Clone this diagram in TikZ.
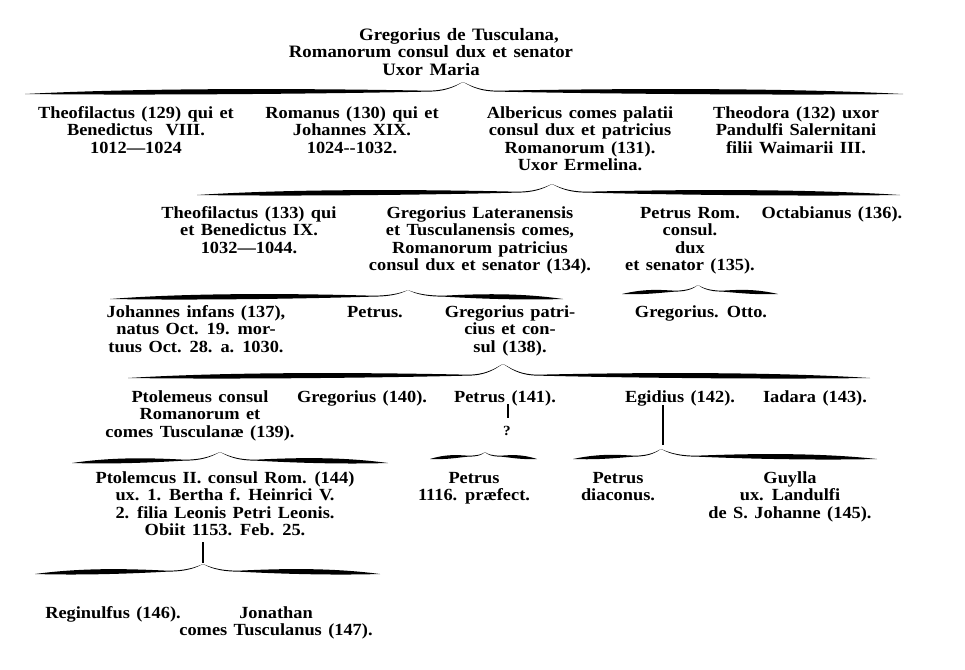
\documentclass[tikz,border=0pt]{standalone}
\usepackage{fontspec}
\setmainfont{Liberation Serif}[FakeStretch=1.08,WordSpace=1.4]
% invisible strut fixing the height of every first line
\newcommand{\fst}{\rule{0pt}{14pt}}
\tikzset{
  person/.style={anchor=north, align=center, inner sep=0pt,
    font=\fontsize{17}{17.5}\selectfont\bfseries},
  titletext/.style={person, font=\fontsize{17.4}{17.5}\selectfont\bfseries},
  stem/.style={line width=1.2pt}
}
% one half of a swelled printer's brace: outer end x, cusp x, base y, cusp y
\newcommand{\swhalf}[4]{%
  \pgfmathsetmacro\bLen{#2-#1}%
  \pgfmathsetmacro\bRis{min(35,0.3*abs(\bLen))*sign(\bLen)}%
  \pgfmathsetmacro\bTh{min(1,0.3+abs(\bLen)/250)}%
  \fill ({#1},{#3+3}) .. controls ({#1+0.3*\bLen},{#3-4*\bTh}) and ({#2-\bRis-0.2*\bLen},{#3-2*\bTh}) ..
    ({#2-\bRis},{#3-0.3}) .. controls ({#2-0.4*\bRis},{#3-0.5}) and ({#2-0.15*\bRis},{#4+2}) ..
    ({#2},{#4}) .. controls ({#2-0.15*\bRis},{#4+2.6}) and ({#2-0.4*\bRis},{#3+0.6}) ..
    ({#2-\bRis},{#3+0.6}) .. controls ({#2-\bRis-0.2*\bLen},{#3+0.6+1.9*\bTh}) and ({#1+0.3*\bLen},{#3+3+1.5*\bTh}) ..
    ({#1},{#3+3}) -- cycle;}
% x1, cusp x, x2, base y, cusp y
\newcommand{\swbrace}[5]{\swhalf{#1}{#2}{#4}{#5}\swhalf{#3}{#2}{#4}{#5}}
\begin{document}
\begin{tikzpicture}[x=1pt,y=-1pt]
\fill[white] (0,0) rectangle (965,669);
\useasboundingbox (0,0) rectangle (965,669);

% title
\node[titletext] (t) at (431,26) {\fst\hspace*{56pt}Gregorius de Tusculana,\\Romanorum consul dux et senator\\Uxor Maria};

% row 1
\swbrace{25}{463}{903}{91}{82}
\node[person] (n129) at (136,104) {\fst Theofilactus (129) qui et\\Benedictus~ VIII.\\1012—1024};
\node[person] (n130) at (352,104) {\fst Romanus (130) qui et\\Johannes XIX.\\1024-{}-1032.};
\node[person] (n131) at (580,104) {\fst Albericus comes palatii\\consul dux et patricius\\Romanorum (131).\\Uxor Ermelina.};
\node[person] (n132) at (796,104) {\fst Theodora (132) uxor\\Pandulfi Salernitani\\filii Waimarii III.};

% row 2
\swbrace{197}{552}{900}{192}{184}
\node[person] (n133) at (249,204) {\fst Theofilactus (133) qui\\et Benedictus IX.\\1032—1044.};
\node[person] (n134) at (480,204) {\fst Gregorius Lateranensis\\et Tusculanensis comes,\\Romanorum patricius\\consul dux et senator (134).};
\node[person] (n135) at (690,204) {\fst Petrus Rom.\\consul.\\dux\\et senator (135).};
\node[person] (n136) at (832,204) {\fst Octabianus (136).};

% row 3
\swbrace{110}{408}{563}{296}{290}
\swbrace{622}{698}{778}{291}{285}
\node[person] (n137) at (196,303) {\fst Johannes infans (137),\\natus Oct. 19. mor-\\tuus Oct. 28. a. 1030.};
\node[person] (npet) at (375,303) {\fst Petrus.};
\node[person] (n138) at (510,303) {\fst Gregorius patri-\\cius et con-\\sul (138).};
\node[person] (ngo) at (701,303) {\fst Gregorius. Otto.};

% row 4
\swbrace{128}{503}{870}{375}{364}
\node[person] (n139) at (200,388) {\fst Ptolemeus consul\\Romanorum et\\comes Tusculanæ (139).};
\node[person] (n140) at (362,388) {\fst Gregorius (140).};
\node[person] (n141) at (505,388) {\fst Petrus (141).};
\node[person] (n142) at (680,388) {\fst Egidius (142).};
\node[person] (n143) at (815,388) {\fst Iadara (143).};
\coordinate (q1) at (508,404);
\coordinate (q2) at (508,418);
\draw[stem] (q1) -- (q2);
\node[person, font=\fontsize{14}{15}\selectfont\bfseries] (qm) at (507,426) {?};
\coordinate (e1) at (663,405);
\coordinate (e2) at (663,445);
\draw[stem] (e1) -- (e2);

% row 5
\swbrace{72}{220}{388}{460}{452}
\swbrace{430}{485}{537}{456}{452}
\swbrace{573}{661}{877}{456}{449}
\node[person] (n144) at (225,469) {\fst Ptolemcus II. consul Rom. (144)\\ux. 1. Bertha f. Heinrici V.\\2. filia Leonis Petri Leonis.\\Obiit 1153. Feb. 25.};
\node[person] (npr) at (474,469) {\fst Petrus\\1116. præfect.};
\node[person] (ndi) at (618,469) {\fst Petrus\\diaconus.};
\node[person] (n145) at (790,469) {\fst Guylla\\ux. Landulfi\\de S. Johanne (145).};
\coordinate (p1) at (203,542);
\coordinate (p2) at (203,563);
\draw[stem] (p1) -- (p2);

% row 6
\swbrace{35}{203}{380}{571}{564}
\node[person] (n146) at (113,604) {\fst Reginulfus (146).};
\node[person] (n147) at (276,604) {\fst Jonathan\\comes Tusculanus (147).};
\end{tikzpicture}
\end{document}
